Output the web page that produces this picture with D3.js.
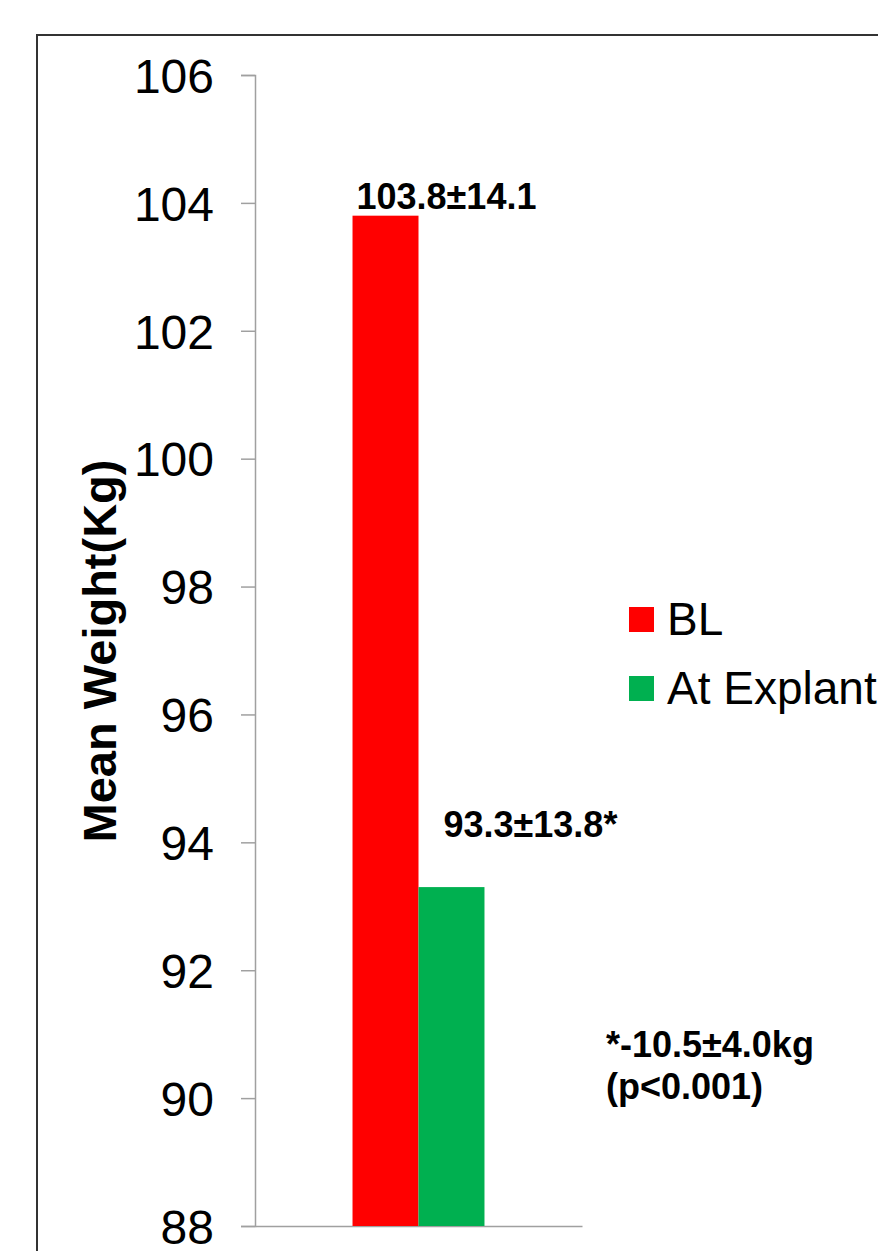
<!DOCTYPE html>
<html>
<head>
<meta charset="utf-8">
<script src="https://cdn.jsdelivr.net/npm/d3@7"></script>
<style>
  html, body { margin: 0; padding: 0; background: #fff; }
  svg { display: block; }
  text { font-family: "Liberation Sans", Arial, sans-serif; }
</style>
</head>
<body>
<svg id="chart" width="878" height="1251"></svg>
<script>
// ---- data ----
const categories = ["Weight"];
const seriesNames = ["BL", "At Explant"];
const seriesValues = [103.8, 93.3];
const seriesColors = ["#FF0000", "#00B050"];
const barLabels = ["103.8±14.1", "93.3±13.8*"];
const yTicks = [88, 90, 92, 94, 96, 98, 100, 102, 104, 106];
const noteLines = ["*-10.5±4.0kg", "(p<0.001)"];
const yTitle = "Mean Weight(Kg)";

const svg = d3.select("#chart");

// outer frame
svg.append("rect")
  .attr("x", 37).attr("y", 35)
  .attr("width", 900).attr("height", 1300)
  .attr("fill", "none").attr("stroke", "#333").attr("stroke-width", 2);

const plot = { left: 255, right: 582, top: 75, bottom: 1226 };

const y = d3.scaleLinear().domain([88, 106]).range([plot.bottom, plot.top]);
const x0 = d3.scaleBand().domain(categories).range([plot.left, plot.right])
  .paddingInner(0).paddingOuter(0.739);
const x1 = d3.scaleBand().domain(seriesNames).range([0, x0.bandwidth()]).padding(0);

// y axis
const yAxis = d3.axisLeft(y).tickValues(yTicks).tickSize(14).tickPadding(27)
  .tickFormat(d3.format("d"));
const gy = svg.append("g").attr("transform", `translate(${plot.left},0)`).call(yAxis);
gy.select(".domain").attr("stroke", "#a0a0a0").attr("stroke-width", 1.5);
gy.selectAll(".tick line").attr("stroke", "#a0a0a0").attr("stroke-width", 1.5);
gy.selectAll(".tick text")
  .attr("font-size", 48).attr("fill", "#000")
  .attr("font-family", "'Liberation Sans', Arial, sans-serif")
  .attr("dy", "0.36em");

// x axis (no labels)
const xAxis = d3.axisBottom(x0).tickSize(0).tickFormat("");
const gx = svg.append("g").attr("transform", `translate(0,${plot.bottom})`).call(xAxis);
gx.select(".domain").attr("stroke", "#a0a0a0").attr("stroke-width", 1.5);

// bars
const data = seriesNames.map((s, i) => ({ series: s, value: seriesValues[i], color: seriesColors[i], label: barLabels[i] }));
const g = svg.append("g").attr("transform", `translate(${x0(categories[0])},0)`);
g.selectAll("rect.bar").data(data).join("rect")
  .attr("class", "bar")
  .attr("x", d => x1(d.series))
  .attr("y", d => y(d.value))
  .attr("width", x1.bandwidth())
  .attr("height", d => y(88) - y(d.value))
  .attr("fill", d => d.color);

// bar labels (manually positioned offsets relative to bar)
const labelOffsets = [{ dx: 4, dy: -7 }, { dx: 25, dy: -50 }];
g.selectAll("text.lbl").data(data).join("text")
  .attr("class", "lbl")
  .attr("x", (d, i) => x1(d.series) + labelOffsets[i].dx)
  .attr("y", (d, i) => y(d.value) + labelOffsets[i].dy)
  .attr("font-size", 36).attr("font-weight", "bold").attr("fill", "#000")
  .text(d => d.label);

// note
svg.append("g").selectAll("text").data(noteLines).join("text")
  .attr("x", 606)
  .attr("y", (d, i) => 1057 + i * 42)
  .attr("font-size", 36).attr("font-weight", "bold").attr("fill", "#000")
  .text(d => d);

// y title
svg.append("text")
  .attr("transform", `translate(116,651) rotate(-90)`)
  .attr("text-anchor", "middle")
  .attr("font-size", 47).attr("font-weight", "bold").attr("fill", "#000")
  .text(yTitle);

// legend
const legend = svg.append("g").selectAll("g").data(data).join("g")
  .attr("transform", (d, i) => `translate(629,${607 + i * 69})`);
legend.append("rect").attr("width", 25).attr("height", 25).attr("fill", d => d.color);
legend.append("text").attr("x", 38).attr("y", 28)
  .attr("font-size", 46).attr("fill", "#000")
  .text(d => d.series);
</script>
</body>
</html>
